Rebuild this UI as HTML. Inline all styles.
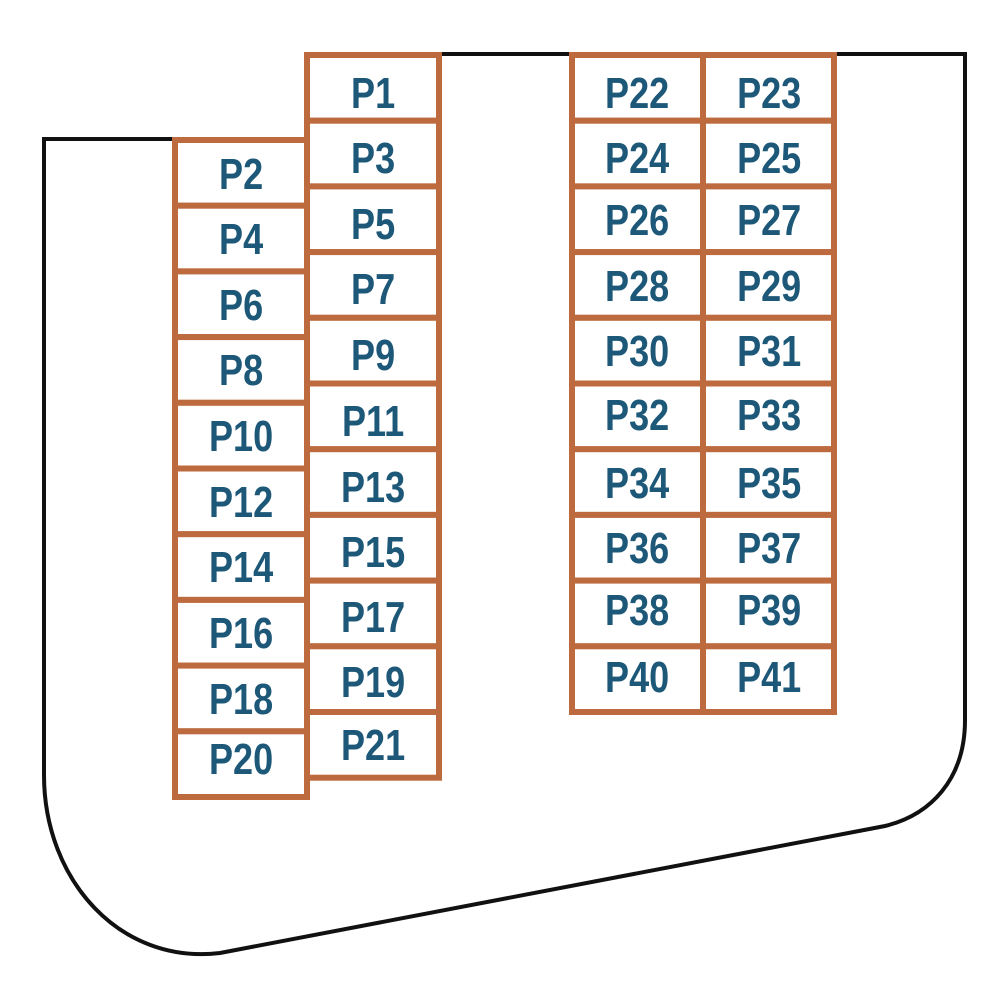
<!DOCTYPE html>
<html><head><meta charset="utf-8"><style>
html,body{margin:0;padding:0;background:#fff;}
svg{display:block}
text{font-family:"Liberation Sans",sans-serif;font-weight:bold;font-size:44px;fill:#1d5878;text-anchor:middle;}
</style></head><body>
<svg width="1000" height="998" viewBox="0 0 1000 998" xmlns="http://www.w3.org/2000/svg">
<path d="M175,139 H44 V775 C44,880 120,965 220,953 L885,826 C930,815 965,780 965,720 V54 H440" fill="none" stroke="#111" stroke-width="4"/>
<g fill="#fff" stroke="#bd6a3e" stroke-width="6">
<!-- col A -->
<rect x="175" y="140" width="132" height="65.7"/><rect x="175" y="205.7" width="132" height="65.7"/>
<rect x="175" y="271.4" width="132" height="65.7"/><rect x="175" y="337.1" width="132" height="65.7"/>
<rect x="175" y="402.8" width="132" height="65.7"/><rect x="175" y="468.5" width="132" height="65.7"/>
<rect x="175" y="534.2" width="132" height="65.7"/><rect x="175" y="599.9" width="132" height="65.7"/>
<rect x="175" y="665.6" width="132" height="65.7"/><rect x="175" y="731.3" width="132" height="65.7"/>
<!-- col B -->
<rect x="307" y="55" width="132" height="65.7"/><rect x="307" y="120.7" width="132" height="65.7"/>
<rect x="307" y="186.4" width="132" height="65.7"/><rect x="307" y="252.1" width="132" height="65.7"/>
<rect x="307" y="317.8" width="132" height="65.7"/><rect x="307" y="383.5" width="132" height="65.7"/>
<rect x="307" y="449.2" width="132" height="65.7"/><rect x="307" y="514.9" width="132" height="65.7"/>
<rect x="307" y="580.6" width="132" height="65.7"/><rect x="307" y="646.3" width="132" height="65.7"/>
<rect x="307" y="712" width="132" height="65.7"/>
<!-- col C -->
<rect x="572" y="55" width="131" height="65.7"/><rect x="572" y="120.7" width="131" height="65.7"/>
<rect x="572" y="186.4" width="131" height="65.7"/><rect x="572" y="252.1" width="131" height="65.7"/>
<rect x="572" y="317.8" width="131" height="65.7"/><rect x="572" y="383.5" width="131" height="65.7"/>
<rect x="572" y="449.2" width="131" height="65.7"/><rect x="572" y="514.9" width="131" height="65.7"/>
<rect x="572" y="580.6" width="131" height="65.7"/><rect x="572" y="646.3" width="131" height="65.7"/>
<!-- col D -->
<rect x="703" y="55" width="131" height="65.7"/><rect x="703" y="120.7" width="131" height="65.7"/>
<rect x="703" y="186.4" width="131" height="65.7"/><rect x="703" y="252.1" width="131" height="65.7"/>
<rect x="703" y="317.8" width="131" height="65.7"/><rect x="703" y="383.5" width="131" height="65.7"/>
<rect x="703" y="449.2" width="131" height="65.7"/><rect x="703" y="514.9" width="131" height="65.7"/>
<rect x="703" y="580.6" width="131" height="65.7"/><rect x="703" y="646.3" width="131" height="65.7"/>
</g>
<g transform="scale(0.82,1)">
<!-- col A centre 241 -> 294 -->
<text x="294" y="189">P2</text><text x="294" y="254">P4</text><text x="294" y="320">P6</text>
<text x="294" y="385">P8</text><text x="294" y="451">P10</text><text x="294" y="517">P12</text>
<text x="294" y="582">P14</text><text x="294" y="648">P16</text><text x="294" y="714">P18</text>
<text x="294" y="774">P20</text>
<!-- col B centre 373 -> 455 -->
<text x="455" y="108">P1</text><text x="455" y="173">P3</text><text x="455" y="239">P5</text>
<text x="455" y="304">P7</text><text x="455" y="370">P9</text><text x="455" y="436">P11</text>
<text x="455" y="502">P13</text><text x="455" y="567">P15</text><text x="455" y="632">P17</text>
<text x="455" y="697">P19</text><text x="455" y="760">P21</text>
<!-- col C centre 637 -> 777 -->
<text x="777" y="108">P22</text><text x="777" y="173">P24</text><text x="777" y="235">P26</text>
<text x="777" y="301">P28</text><text x="777" y="366">P30</text><text x="777" y="430">P32</text>
<text x="777" y="498">P34</text><text x="777" y="563">P36</text><text x="777" y="625">P38</text>
<text x="777" y="692">P40</text>
<!-- col D centre 769 -> 938 -->
<text x="938" y="108">P23</text><text x="938" y="173">P25</text><text x="938" y="235">P27</text>
<text x="938" y="301">P29</text><text x="938" y="366">P31</text><text x="938" y="430">P33</text>
<text x="938" y="498">P35</text><text x="938" y="563">P37</text><text x="938" y="625">P39</text>
<text x="938" y="692">P41</text>
</g>
</svg>
</body></html>
